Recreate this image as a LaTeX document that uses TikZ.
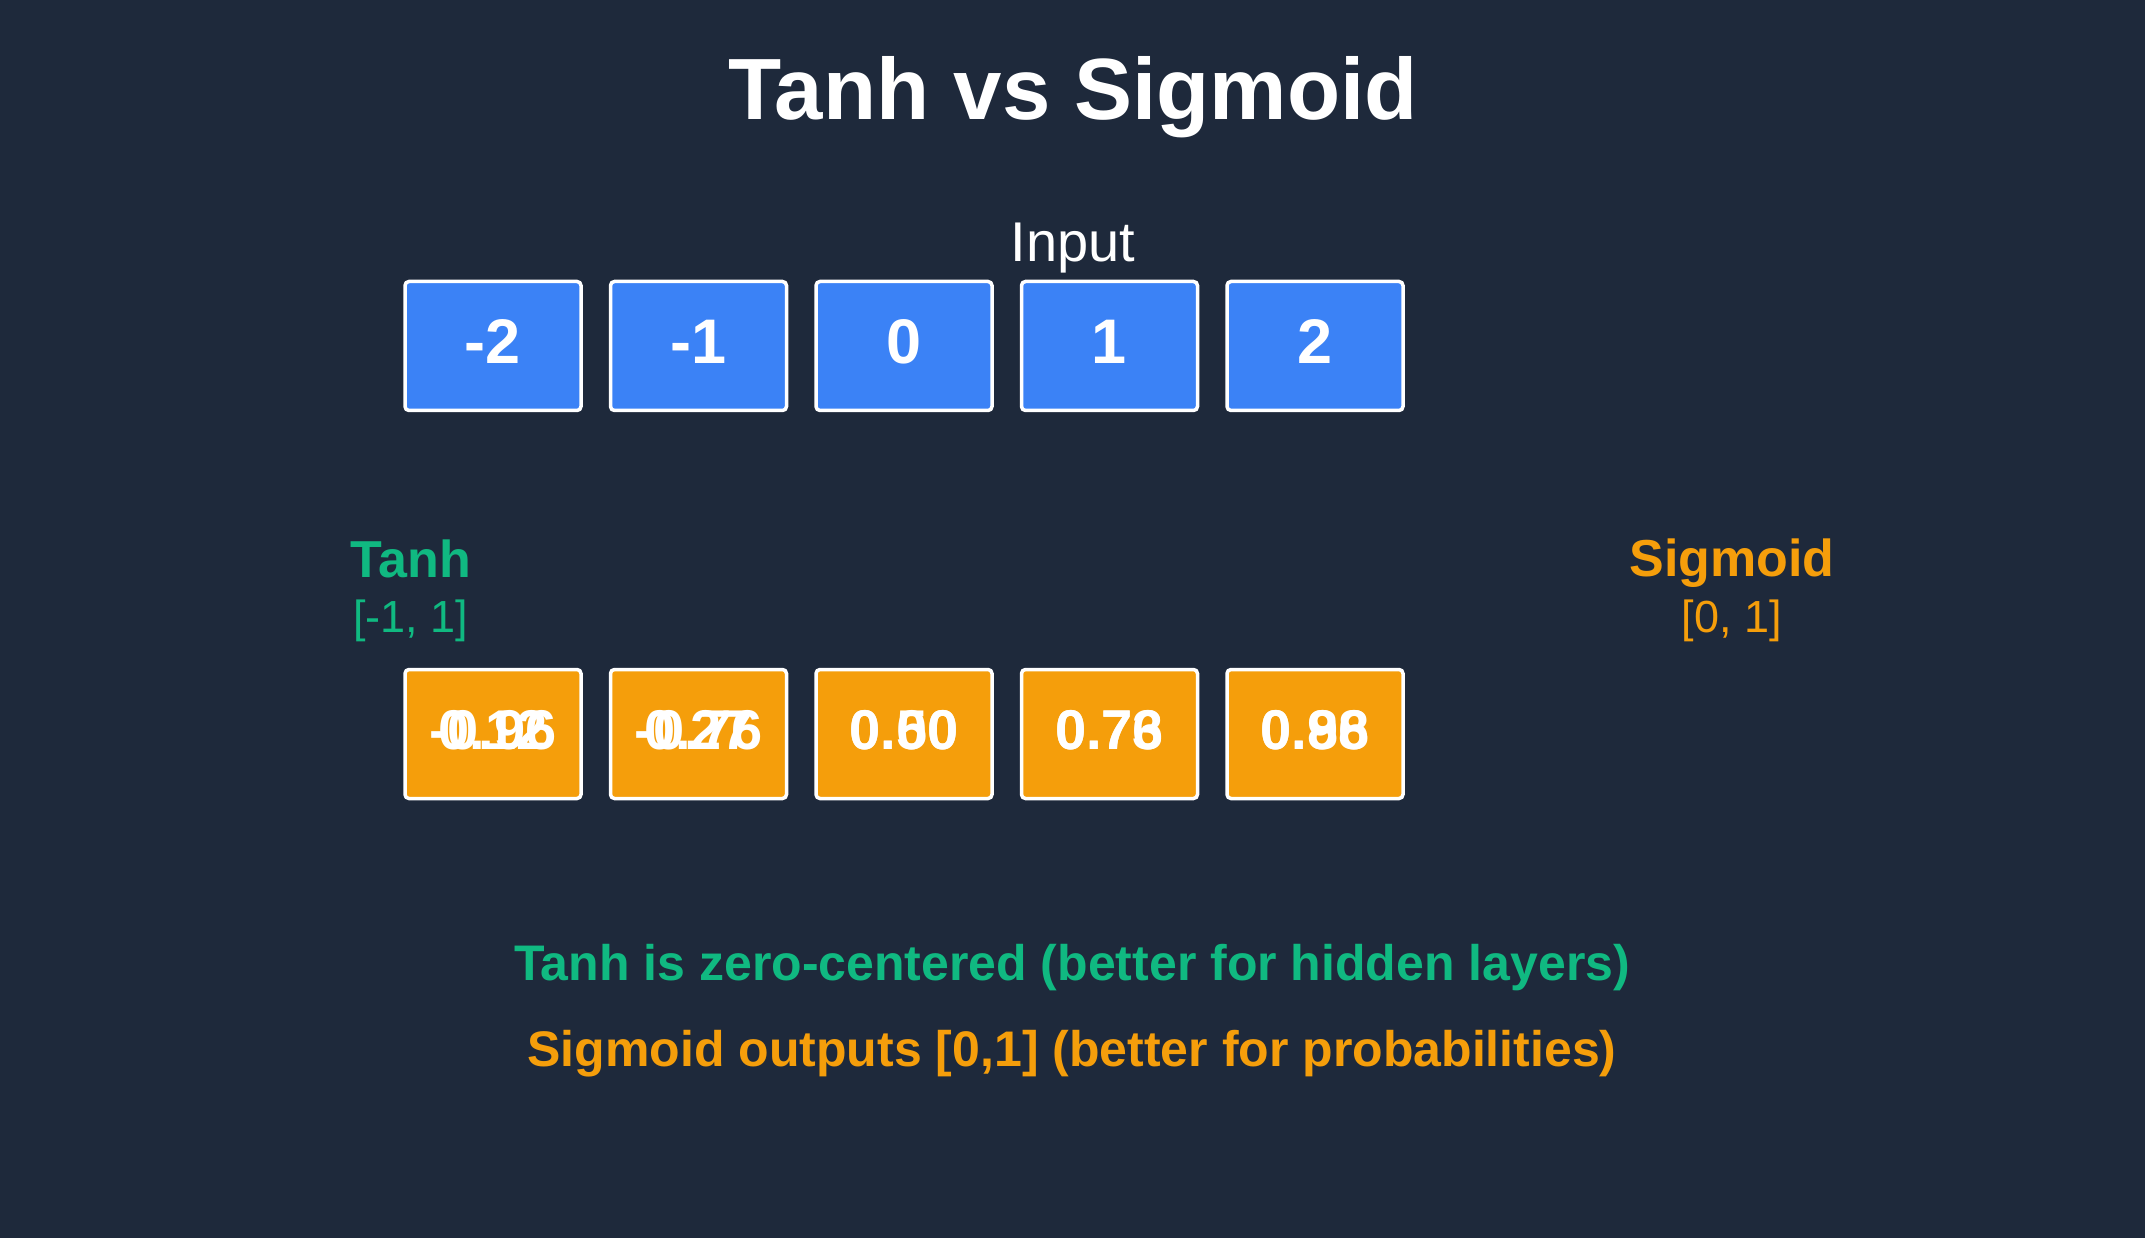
\documentclass[tikz,border=0pt]{standalone}
\usepackage{fontspec}
\setmainfont{Liberation Sans}
\definecolor{bg}{HTML}{1E293B}
\definecolor{inblue}{HTML}{3B82F6}
\definecolor{sigorange}{HTML}{F59E0B}
\definecolor{tanhgreen}{HTML}{10B981}
\begin{document}
\begin{tikzpicture}[x=1pt,y=-1pt,
  cell/.style={draw=white, line width=3.5pt, rounded corners=4pt, minimum width=176pt, minimum height=129pt, inner sep=0pt},
  inbox/.style={cell, fill=inblue},
  outbox/.style={cell, fill=sigorange},
  innum/.style={text=white, font=\fontsize{63}{70}\selectfont\bfseries, anchor=base, inner sep=0pt},
  outnum/.style={text=white, font=\fontsize{56}{64}\selectfont\bfseries, anchor=base, inner sep=0pt},
  lbl/.style={anchor=base, inner sep=0pt}
]
\fill[bg] (0,0) rectangle (2145,1238);
\useasboundingbox (0,0) rectangle (2145,1238);

\node[lbl, text=white, font=\fontsize{87}{96}\selectfont\bfseries] (title) at (1073,120) {Tanh vs Sigmoid};
\node[lbl, text=white, font=\fontsize{56}{64}\selectfont] (input) at (1073,262) {Input};

\foreach \i/\v [count=\k] in {0/-2,1/-1,2/0,3/1,4/2} {
  \node[inbox] (in\k) at (493+205.5*\i,346) {};
  \node[innum] (inv\k) at (493+205.5*\i,364) {\v};
}

\foreach \i/\t/\s [count=\k] in {0/-0.96/0.12,1/-0.76/0.27,2/0.00/0.50,3/0.76/0.73,4/0.96/0.88} {
  \node[outbox] (out\k) at (493+205.5*\i,734) {};
  \node[outnum] (tv\k) at (493+205.5*\i,749) {\t};
  \node[outnum] (sv\k) at (493+205.5*\i,749) {\s};
}

\node[lbl, text=tanhgreen, font=\fontsize{52}{60}\selectfont\bfseries] (tanh) at (411,577) {Tanh};
\node[lbl, text=tanhgreen, font=\fontsize{45}{52}\selectfont] (tanhr) at (411,632) {[-1, 1]};
\node[lbl, text=sigorange, font=\fontsize{52}{60}\selectfont\bfseries] (sig) at (1732,576) {Sigmoid};
\node[lbl, text=sigorange, font=\fontsize{45}{52}\selectfont] (sigr) at (1732,632) {[0, 1]};

\node[lbl, text=tanhgreen, font=\fontsize{50}{58}\selectfont\bfseries] (note1) at (1072,980) {Tanh is zero-centered (better for hidden layers)};
\node[lbl, text=sigorange, font=\fontsize{50}{58}\selectfont\bfseries] (note2) at (1072,1066) {Sigmoid outputs [0,1] (better for probabilities)};
\end{tikzpicture}
\end{document}
